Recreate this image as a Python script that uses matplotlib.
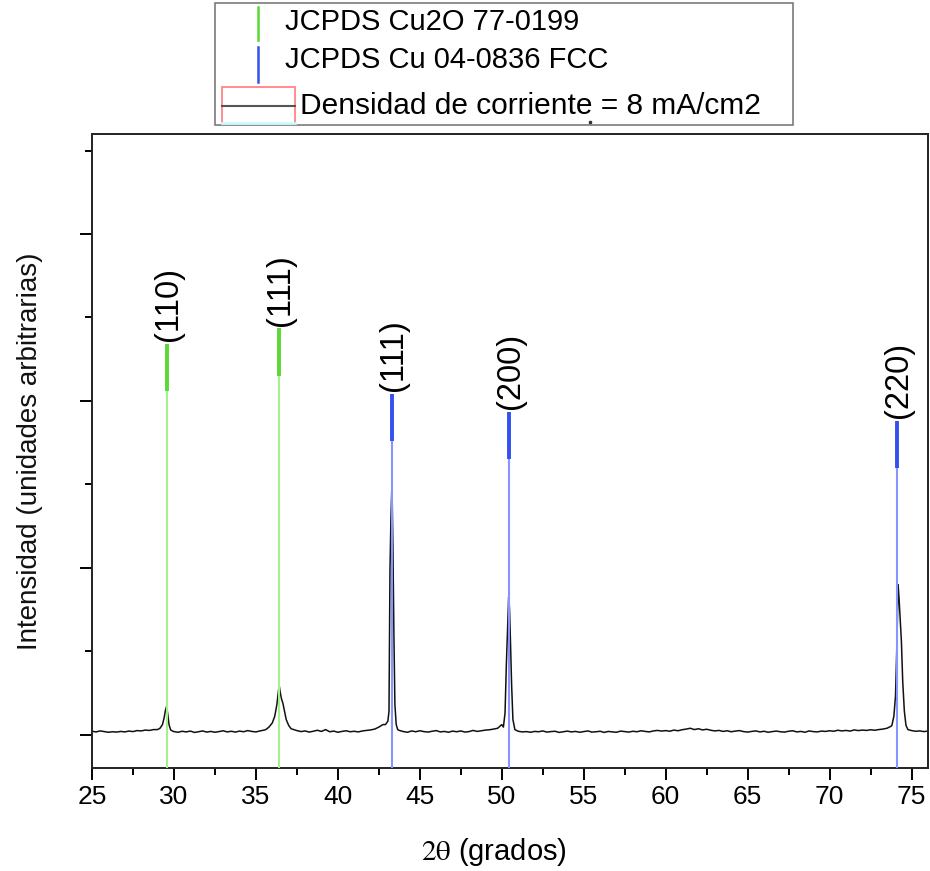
import numpy as np
import matplotlib.pyplot as plt
from matplotlib.ticker import MultipleLocator
from matplotlib.patches import Rectangle

plt.rcParams["font.family"] = ["Liberation Sans", "DejaVu Sans"]
plt.rcParams["mathtext.fontset"] = "stix"

# measured pattern: background sampled every 0.25 deg from 25 deg
BG_START, BG_STEP = 25.0, 0.25
bg_counts = [
    20, 16, 22, 18, 14, 17, 15, 19, 16, 21, 18, 24, 22, 27, 25, 30, 38, 55, 150, 45,
    18, 14, 20, 16, 21, 13, 17, 22, 15, 19, 14, 18, 23, 16, 20, 15, 21, 17, 24, 19,
    16, 22, 27, 30, 100, 190, 250, 110, 50, 32, 24, 18, 22, 15, 20, 26, 19, 30, 17, 21,
    14, 19, 23, 17, 20, 16, 22, 25, 28, 33, 45, 60, 200, 1400, 115, 25, 18, 14, 22, 17,
    23, 18, 15, 20, 24, 16, 19, 14, 21, 17, 22, 15, 18, 25, 19, 23, 27, 29, 33, 38,
    60, 506, 700, 40, 20, 16, 18, 14, 19, 17, 22, 15, 18, 20, 13, 17, 21, 16, 19, 14,
    18, 22, 15, 17, 20, 13, 19, 16, 14, 21, 18, 15, 20, 17, 23, 19, 16, 22, 25, 21,
    24, 20, 27, 23, 29, 33, 38, 30, 35, 28, 32, 26, 22, 25, 19, 23, 17, 21, 24, 18,
    15, 19, 22, 16, 20, 14, 18, 21, 17, 15, 20, 23, 16, 19, 14, 22, 18, 16, 21, 19,
    23, 20, 26, 22, 25, 21, 28, 24, 27, 25, 29, 26, 30, 33, 38, 50, 300, 850, 300, 40,
    24, 20, 22, 18, 21,
]

# finer sampling across each reflection
pk1_x = [29.0, 29.15, 29.3, 29.4, 29.48, 29.55, 29.62, 29.7, 29.8, 29.9]
pk1_y = [30, 38, 60, 100, 145, 169, 125, 60, 28, 22]
pk2_x = [35.6, 35.8, 36.0, 36.15, 36.28, 36.36, 36.42, 36.48, 36.56, 36.65, 36.75, 36.85, 37.0, 37.15]
pk2_y = [30, 45, 70, 110, 180, 250, 295, 255, 215, 187, 140, 90, 55, 35]
pk3_x = [42.9, 43.05, 43.12, 43.18, 43.24, 43.3, 43.36, 43.42, 43.48, 43.56, 43.65]
pk3_y = [60, 80, 140, 988, 1300, 1500, 1127, 596, 180, 60, 30]
pk4_x = [50.1, 50.2, 50.28, 50.35, 50.42, 50.47, 50.53, 50.6, 50.68, 50.8]
pk4_y = [45, 130, 420, 620, 825, 760, 560, 300, 90, 30]
pk5_x = [73.8, 73.92, 74.02, 74.1, 74.18, 74.24, 74.3, 74.38, 74.46, 74.56, 74.66, 74.78]
pk5_y = [55, 110, 230, 520, 898, 810, 700, 560, 320, 140, 55, 30]

# reference cards
cu2o_pos = [29.58, 36.44]
cu2o_top = [2343, 2434]
cu2o_hkl = ["(110)", "(111)"]
cu_pos = [43.30, 50.43, 74.13]
cu_top = [2042, 1934, 1880]
cu_hkl = ["(111)", "(200)", "(220)"]
STICK_HEAD = 285

peaks = [(pk1_x, pk1_y), (pk2_x, pk2_y), (pk3_x, pk3_y), (pk4_x, pk4_y), (pk5_x, pk5_y)]
bg_x = BG_START + BG_STEP * np.arange(len(bg_counts))
bg_y = np.array(bg_counts, dtype=float)
keep = np.ones(len(bg_x), dtype=bool)
for px, _ in peaks:
    keep &= ~((bg_x >= min(px)) & (bg_x <= max(px)))
xs = np.concatenate([bg_x[keep]] + [np.array(p[0]) for p in peaks])
ys = np.concatenate([bg_y[keep]] + [np.array(p[1], dtype=float) for p in peaks])
order = np.argsort(xs)
xs, ys = xs[order], ys[order]

fig = plt.figure(figsize=(9.3, 8.71), dpi=100)
ax = fig.add_axes([0.0989, 0.1183, 0.8989, 0.7279])
ax.plot(xs, ys, color="#111111", lw=1.1, zorder=2)

YMIN, YMAX = -200, 3600
sticks = [(cu2o_pos, cu2o_top, cu2o_hkl, "#a6f08c", "#5ad834"),
          (cu_pos, cu_top, cu_hkl, "#8596ff", "#3350ee")]
for pos, top, hkl, thin_c, head_c in sticks:
    for p, t, lab in zip(pos, top, hkl):
        ax.plot([p, p], [YMIN, t], color=thin_c, lw=1.5, zorder=3, solid_capstyle="butt")
        ax.plot([p, p], [t - STICK_HEAD, t], color=head_c, lw=2.8, zorder=4, solid_capstyle="butt")
        ax.annotate(lab, (p, t), xytext=(1, 2), textcoords="offset points",
                    rotation=90, ha="center", va="bottom", fontsize=23.5)

ax.set_xlim(25, 76)
ax.set_ylim(YMIN, YMAX)
ax.xaxis.set_major_locator(MultipleLocator(5))
ax.xaxis.set_minor_locator(MultipleLocator(2.5))
ax.yaxis.set_major_locator(MultipleLocator(1000))
ax.yaxis.set_minor_locator(MultipleLocator(500))
ax.tick_params(which="both", direction="out", width=1.4, top=False, right=False)
ax.tick_params(which="major", length=8.5)
ax.tick_params(which="minor", length=5)
ax.tick_params(axis="x", labelsize=19, pad=4)
ax.tick_params(axis="y", labelleft=False)
for s in ax.spines.values():
    s.set_linewidth(1.4)
    s.set_color("#222222")

ax.set_xlabel(r"$\mathrm{2\theta}$ (grados)", fontsize=21)
ax.xaxis.set_label_coords(0.481, -0.108)
ax.set_ylabel("Intensidad (unidades arbitrarias)", fontsize=20, color="#111111")
ax.yaxis.set_label_coords(-0.058, 0.5)

# legend block drawn in figure pixels
lg = fig.add_axes([0, 0, 1, 1], zorder=5)
lg.set_xlim(0, 930)
lg.set_ylim(871, 0)
lg.axis("off")
lg.add_patch(Rectangle((215, 3), 578, 122, facecolor="white", edgecolor="#7a7a7a", lw=1.2))
lg.plot([258, 258], [7, 40], color="#5ad834", lw=1.8)
lg.plot([258, 258], [47, 82], color="#3350ee", lw=1.8)
lg.plot([222, 295], [123, 123], color="#c8fbff", lw=2)
lg.add_patch(Rectangle((222, 87), 73, 37, fill=False, edgecolor="#ff7a7a", lw=1.2))
lg.plot([222, 295], [106, 106], color="#555555", lw=1.5)
lg.plot([590], [122], marker="s", ms=2, color="#333333")
lg.text(285, 30, "JCPDS Cu2O 77-0199", fontsize=21, va="baseline")
lg.text(285, 68, "JCPDS Cu 04-0836 FCC", fontsize=21, va="baseline")
lg.text(300, 114, "Densidad de corriente = 8 mA/cm2", fontsize=21.5, va="baseline")

fig.savefig("out.png", dpi=100)
